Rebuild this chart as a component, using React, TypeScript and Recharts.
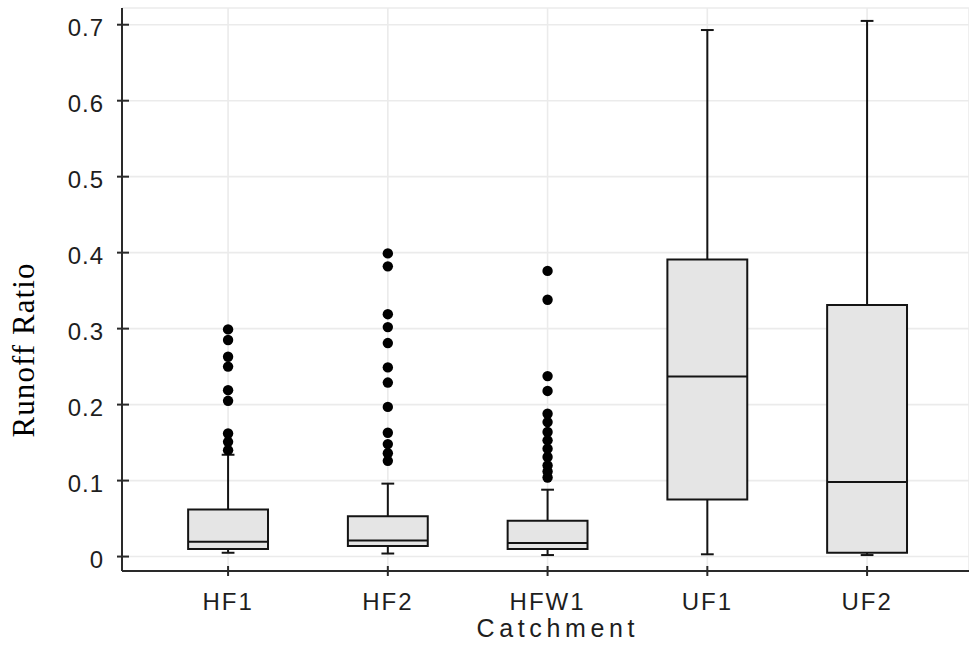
import React from "react";
import {
  ComposedChart,
  XAxis,
  YAxis,
  CartesianGrid,
  ReferenceArea,
  ReferenceLine,
  Scatter,
} from "recharts";

const categories = ["HF1", "HF2", "HFW1", "UF1", "UF2"];

// five-number summaries
const whiskerLow = [0.005, 0.004, 0.002, 0.003, 0.002];
const q1 = [0.0099, 0.014, 0.01, 0.075, 0.005];
const median = [0.0195, 0.021, 0.018, 0.237, 0.098];
const q3 = [0.062, 0.053, 0.047, 0.391, 0.331];
const whiskerHigh = [0.134, 0.096, 0.088, 0.693, 0.705];

const outliersHF1 = [0.299, 0.285, 0.263, 0.25, 0.219, 0.205, 0.162, 0.151, 0.14];
const outliersHF2 = [0.399, 0.382, 0.319, 0.302, 0.281, 0.249, 0.229, 0.197, 0.163, 0.148, 0.136, 0.126];
const outliersHFW1 = [0.376, 0.338, 0.2375, 0.218, 0.188, 0.177, 0.164, 0.153, 0.142, 0.131, 0.12, 0.112, 0.104];
const outlierGroups = [outliersHF1, outliersHF2, outliersHFW1, [], []];

const yTicks = [0, 0.1, 0.2, 0.3, 0.4, 0.5, 0.6, 0.7];
const xTicks = [1, 2, 3, 4, 5];

const outlierPoints = outlierGroups.flatMap((vals, i) =>
  vals.map((v) => ({ x: i + 1, y: v }))
);

const axisColor = "#2a2a2a";
const boxStroke = "#141414";
const boxFill = "#e5e5e5";
const gridColor = "#ebebeb";
const textColor = "#1e1e1e";
const halfBox = 0.25;
const halfCap = 0.04;

const XTick = (props: any) => {
  const { x, y, payload } = props;
  return (
    <g>
      <line x1={x} x2={x} y1={y - 5} y2={y + 5} stroke={axisColor} strokeWidth={2} />
      <text
        x={x}
        y={y + 39}
        textAnchor="middle"
        fontFamily="'Liberation Sans', Arial, sans-serif"
        fontSize={24}
        letterSpacing={2}
        fill={textColor}
      >
        {categories[payload.value - 1]}
      </text>
    </g>
  );
};

const YTick = (props: any) => {
  const { x, y, payload } = props;
  return (
    <g>
      <line x1={x - 5} x2={x + 7} y1={y} y2={y} stroke={axisColor} strokeWidth={2} />
      <text
        x={x - 18}
        y={y + 11.5}
        textAnchor="end"
        fontFamily="'Liberation Sans', Arial, sans-serif"
        fontSize={24}
        letterSpacing={1}
        fill={textColor}
      >
        {payload.value === 0 ? "0" : payload.value.toFixed(1)}
      </text>
    </g>
  );
};

const YTitle = (props: any) => {
  const { viewBox } = props;
  const tx = viewBox.x + 34;
  const ty = viewBox.y + viewBox.height / 2 + 61;
  return (
    <text
      x={tx}
      y={ty}
      textAnchor="middle"
      transform={`rotate(-90, ${tx}, ${ty})`}
      fontFamily="'Liberation Serif', 'Times New Roman', serif"
      fontSize={31}
      textLength={174}
      fill="#000"
    >
      Runoff Ratio
    </text>
  );
};

const XTitle = (props: any) => {
  const { viewBox } = props;
  return (
    <text
      x={viewBox.x + viewBox.width / 2 + 10}
      y={viewBox.y + 66}
      textAnchor="middle"
      fontFamily="'Liberation Sans', Arial, sans-serif"
      fontSize={25}
      textLength={158}
      fill={textColor}
    >
      Catchment
    </text>
  );
};

export default function App() {
  return (
    <div style={{ position: "absolute", left: 0, top: 0, background: "#fff" }}>
      <ComposedChart
        width={969}
        height={645}
        margin={{ top: 8, right: 0, bottom: 0, left: 0 }}
      >
        <CartesianGrid stroke={gridColor} strokeWidth={1.6} />
        <XAxis
          type="number"
          dataKey="x"
          domain={[0.336, 5.638]}
          ticks={xTicks}
          interval={0}
          allowDataOverflow
          height={74}
          tickSize={0}
          tickMargin={0}
          tickLine={false}
          axisLine={{ stroke: axisColor, strokeWidth: 2 }}
          tick={<XTick />}
          label={<XTitle />}
        />
        <YAxis
          type="number"
          dataKey="y"
          domain={[-0.019, 0.722]}
          ticks={yTicks}
          interval={0}
          allowDataOverflow
          width={122}
          tickSize={0}
          tickMargin={0}
          tickLine={false}
          axisLine={{ stroke: axisColor, strokeWidth: 2 }}
          tick={<YTick />}
          label={<YTitle />}
        />
        {categories.map((c, i) => (
          <ReferenceArea
            key={"box" + c}
            x1={i + 1 - halfBox}
            x2={i + 1 + halfBox}
            y1={q1[i]}
            y2={q3[i]}
            fill={boxFill}
            fillOpacity={1}
            stroke={boxStroke}
            strokeWidth={2}
          />
        ))}
        {categories.map((c, i) => (
          <ReferenceLine
            key={"med" + c}
            segment={[
              { x: i + 1 - halfBox, y: median[i] },
              { x: i + 1 + halfBox, y: median[i] },
            ]}
            stroke={boxStroke}
            strokeWidth={2}
          />
        ))}
        {categories.map((c, i) => (
          <ReferenceLine
            key={"wu" + c}
            segment={[
              { x: i + 1, y: q3[i] },
              { x: i + 1, y: whiskerHigh[i] },
            ]}
            stroke={boxStroke}
            strokeWidth={2}
          />
        ))}
        {categories.map((c, i) => (
          <ReferenceLine
            key={"wl" + c}
            segment={[
              { x: i + 1, y: whiskerLow[i] },
              { x: i + 1, y: q1[i] },
            ]}
            stroke={boxStroke}
            strokeWidth={2}
          />
        ))}
        {categories.map((c, i) => (
          <ReferenceLine
            key={"cu" + c}
            segment={[
              { x: i + 1 - halfCap, y: whiskerHigh[i] },
              { x: i + 1 + halfCap, y: whiskerHigh[i] },
            ]}
            stroke={boxStroke}
            strokeWidth={2}
          />
        ))}
        {categories.map((c, i) => (
          <ReferenceLine
            key={"cl" + c}
            segment={[
              { x: i + 1 - halfCap, y: whiskerLow[i] },
              { x: i + 1 + halfCap, y: whiskerLow[i] },
            ]}
            stroke={boxStroke}
            strokeWidth={2}
          />
        ))}
        <Scatter
          data={outlierPoints}
          isAnimationActive={false}
          shape={(p: any) => <circle cx={p.cx} cy={p.cy} r={5.2} fill="#000" />}
        />
      </ComposedChart>
    </div>
  );
}
